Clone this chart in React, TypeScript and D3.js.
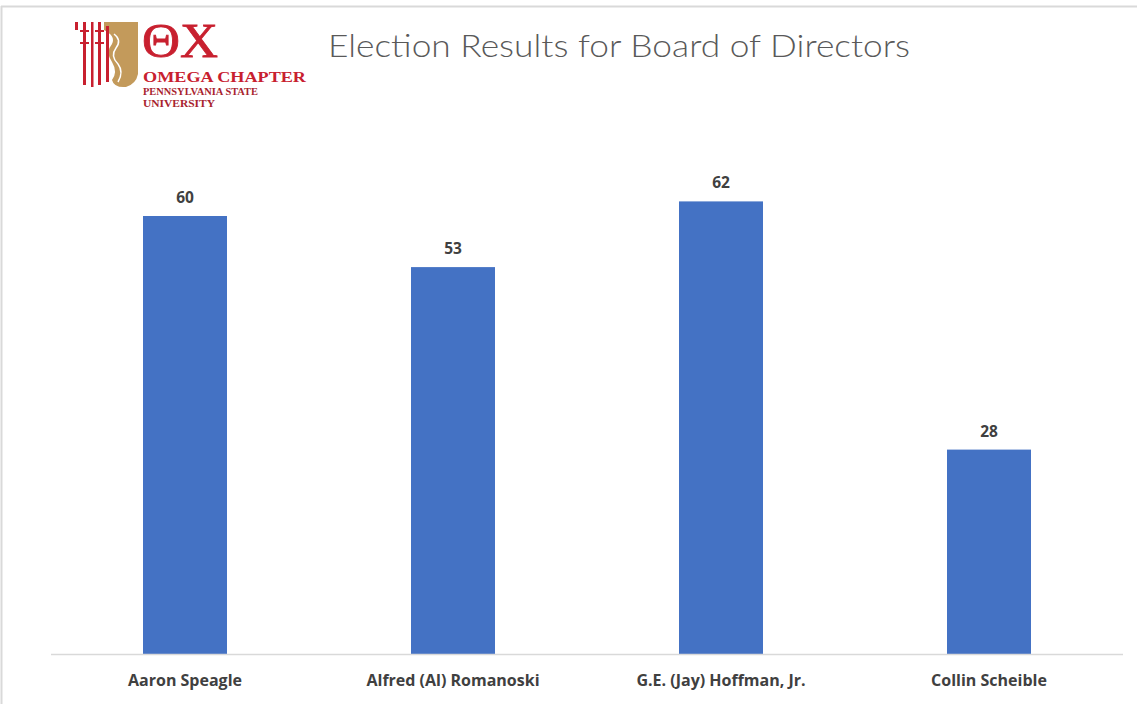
import React from "react";
import * as d3 from "d3";

const categories = ["Aaron Speagle", "Alfred (Al) Romanoski", "G.E. (Jay) Hoffman, Jr.", "Collin Scheible"];
const votes = [60, 53, 62, 28];
const title = "Election Results for Board of Directors";

const W = 1137, H = 704;
const plotLeft = 51, plotRight = 1123, baseY = 654, topY = 143;

export default function App() {
  const x = d3.scaleBand<string>().domain(categories).range([plotLeft, plotRight]).paddingInner(0.6866).paddingOuter(0.3433);
  const y = d3.scaleLinear().domain([0, 70]).range([baseY, topY]);
  const red = "#c8202f";
  const gold = "#c39a5b";
  return (
    <svg width={W} height={H} style={{ position: "absolute", left: 0, top: 0, background: "#fff" }}>
      <rect x={0} y={0} width={W} height={H} fill="#fff" />
      <line x1={1.5} y1={6} x2={1.5} y2={H} stroke="#d9d9d9" strokeWidth={2} />
      <line x1={1} y1={6.5} x2={W} y2={6.5} stroke="#d9d9d9" strokeWidth={2} />
      {/* logo */}
      <g>
        <path d="M104,22 L138,22 L138,74 Q136,84 126,87 Q114,88 112,80 Q118,72 112,62 Q105,52 112,44 Q116,36 104,30 Z" fill={gold} />
        <path d="M114,34 Q122,40 116,48 Q110,56 118,64 Q124,72 118,82" fill="none" stroke="#fff" strokeWidth={1.5} />
        <rect x={75} y={22} width={3} height={8} fill={red} />
        <rect x={83} y={22} width={3} height={63} fill={red} />
        <rect x={91} y={22} width={2.5} height={65} fill={red} />
        <rect x={98} y={22} width={3} height={63} fill={red} />
        <rect x={106} y={26} width={3} height={56} fill={red} />
        <rect x={80} y={30} width={9} height={2} fill={red} />
        <rect x={95} y={30} width={9} height={2} fill={red} />
        <rect x={80} y={42} width={9} height={2} fill={red} />
        <rect x={95} y={42} width={9} height={2} fill={red} />
        <text x={142} y={57} fill={red} fontFamily="'Liberation Serif', serif" fontSize={48} textLength={76} lengthAdjust="spacingAndGlyphs" stroke={red} strokeWidth={0.8}>ΘΧ</text>
        <text x={143} y={82} fill={red} fontFamily="'Liberation Serif', serif" fontWeight={700} fontSize={14.5} textLength={163} lengthAdjust="spacingAndGlyphs">OMEGA CHAPTER</text>
        <text x={143} y={94.5} fill="#a8232e" fontFamily="'Liberation Serif', serif" fontWeight={700} fontSize={10} textLength={115} lengthAdjust="spacingAndGlyphs">PENNSYLVANIA STATE</text>
        <text x={143} y={107} fill="#a8232e" fontFamily="'Liberation Serif', serif" fontWeight={700} fontSize={10} textLength={72} lengthAdjust="spacingAndGlyphs">UNIVERSITY</text>
      </g>
      <text x={619} y={57} textAnchor="middle" fill="#595959" fontFamily="Lato, 'Open Sans', sans-serif" fontWeight={300} fontSize={31} textLength={582} lengthAdjust="spacingAndGlyphs">{title}</text>
      {categories.map((c, i) => (
        <g key={c}>
          <rect x={x(c)} y={y(votes[i])} width={x.bandwidth()} height={baseY - y(votes[i])} fill="#4472c4" />
          <text x={x(c)! + x.bandwidth() / 2} y={y(votes[i]) - 13} textAnchor="middle" fill="#404040" fontFamily="'Open Sans', sans-serif" fontWeight={700} fontSize={15.5}>{votes[i]}</text>
          <text x={x(c)! + x.bandwidth() / 2} y={686} textAnchor="middle" fill="#404040" fontFamily="'Open Sans', sans-serif" fontWeight={700} fontSize={16}>{c}</text>
        </g>
      ))}
      <line x1={plotLeft} x2={plotRight} y1={baseY + 0.5} y2={baseY + 0.5} stroke="#d9d9d9" strokeWidth={1.5} />
    </svg>
  );
}
